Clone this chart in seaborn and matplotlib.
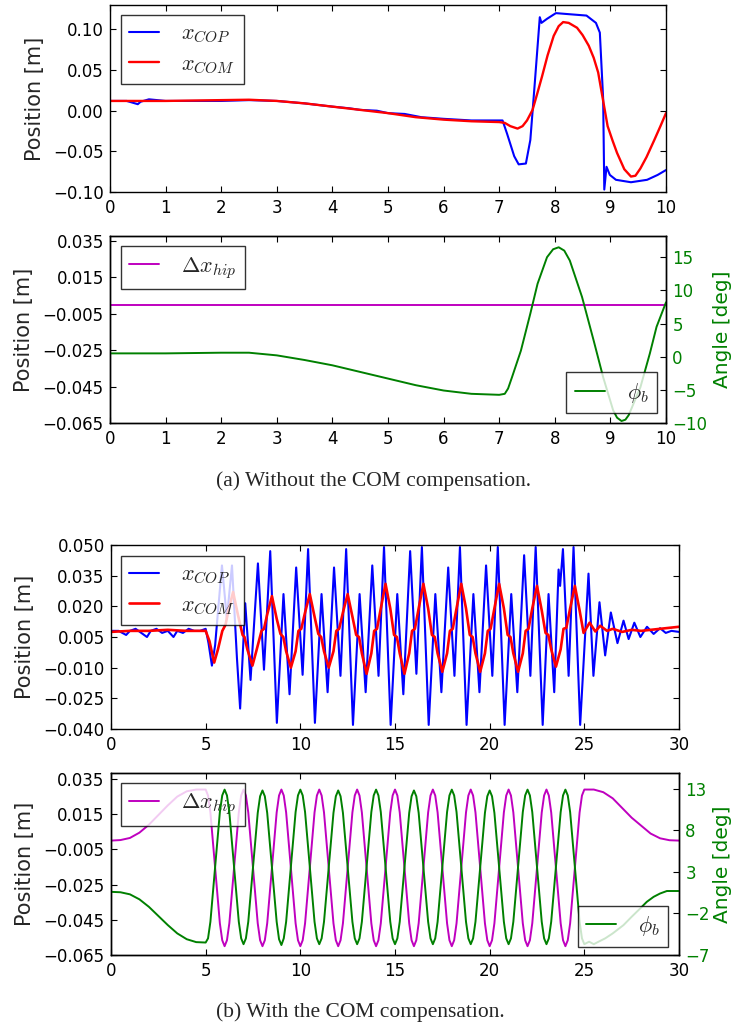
import matplotlib
matplotlib.use("Agg")
import matplotlib.pyplot as plt
import seaborn as sns

# ---------------- (a) without the COM compensation ----------------
t_a_cop = [0.0, 0.3, 0.5, 0.55, 0.7, 1.0, 1.5, 2.0, 2.5, 3.0, 3.5, 4.0, 4.3, 4.5,
           4.8, 5.0, 5.3, 5.6, 6.0, 6.5, 7.0, 7.06, 7.14, 7.27, 7.35, 7.48, 7.56,
           7.64, 7.73, 7.76, 7.86, 8.02, 8.2, 8.57, 8.74, 8.81, 8.87, 8.89, 8.93,
           8.99, 9.1, 9.37, 9.66, 9.85, 10.0]
x_cop_a = [0.012, 0.012, 0.008, 0.011, 0.014, 0.012, 0.012, 0.012, 0.013, 0.012,
           0.009, 0.005, 0.003, 0.001, 0.0, -0.003, -0.004, -0.008, -0.010, -0.012,
           -0.012, -0.012, -0.028, -0.056, -0.066, -0.065, -0.036, 0.034, 0.115,
           0.108, 0.113, 0.120, 0.119, 0.117, 0.108, 0.096, 0.014, -0.097, -0.069,
           -0.079, -0.085, -0.088, -0.085, -0.079, -0.073]

t_a_com = [0.0, 1.0, 2.0, 2.5, 3.0, 3.5, 4.0, 4.5, 5.0, 5.5, 6.0, 6.5, 7.0, 7.1,
           7.2, 7.33, 7.42, 7.5, 7.6, 7.68, 7.77, 7.87, 7.98, 8.07, 8.15, 8.25,
           8.4, 8.5, 8.61, 8.7, 8.78, 8.87, 8.95, 9.04, 9.12, 9.25, 9.37, 9.45,
           9.54, 9.65, 9.79, 9.9, 10.0]
x_com_a = [0.012, 0.012, 0.013, 0.0135, 0.012, 0.009, 0.005, 0.001, -0.003, -0.008,
           -0.011, -0.013, -0.014, -0.015, -0.019, -0.022, -0.019, -0.012, 0.001,
           0.020, 0.042, 0.068, 0.092, 0.104, 0.109, 0.108, 0.102, 0.093, 0.080,
           0.065, 0.047, 0.012, -0.019, -0.037, -0.052, -0.072, -0.081, -0.080,
           -0.071, -0.057, -0.036, -0.019, -0.003]

t_a_hip = [0.0, 10.0]
dx_hip_a = [0.0, 0.0]

t_a_phi = [0.0, 1.0, 2.0, 2.5, 3.0, 3.5, 4.0, 4.5, 5.0, 5.5, 6.0, 6.5, 7.0, 7.1,
           7.16, 7.23, 7.39, 7.56, 7.69, 7.86, 7.97, 8.07, 8.17, 8.27, 8.49, 8.7,
           8.87, 9.05, 9.12, 9.2, 9.27, 9.33, 9.54, 9.71, 9.83, 10.0]
phi_a = [0.5, 0.5, 0.6, 0.6, 0.2, -0.5, -1.3, -2.3, -3.3, -4.3, -5.1, -5.6, -5.75,
         -5.6, -4.8, -3.1, 0.9, 6.5, 11.0, 15.0, 16.2, 16.5, 16.0, 14.5, 9.0, 2.4,
         -3.1, -8.1, -9.2, -9.7, -9.5, -8.8, -4.6, 0.5, 4.5, 8.2]

# ---------------- (b) with the COM compensation ----------------
t_b_cop = [0.0, 0.4, 0.8, 1.0, 1.3, 1.6, 1.9, 2.1, 2.4, 2.7, 3.0, 3.3, 3.5, 3.8,
           4.1, 4.4, 4.7, 5.0,
           5.15, 5.33, 5.5, 5.6, 5.86, 6.12, 6.39, 6.65, 6.82, 7.09, 7.37, 7.76,
           8.08, 8.41,
           8.76, 9.11, 9.43, 9.78, 10.12, 10.41,
           10.77, 11.12, 11.44, 11.78, 12.12, 12.42,
           12.78, 13.13, 13.45, 13.80, 14.13, 14.42,
           14.77, 15.12, 15.44, 15.80, 16.13, 16.42,
           16.78, 17.13, 17.45, 17.81, 18.14, 18.43,
           18.78, 19.14, 19.46, 19.81, 20.14, 20.43,
           20.79, 21.14, 21.46, 21.82, 22.15, 22.43,
           22.80, 23.11, 23.41, 23.64, 23.72, 23.87, 24.17, 24.43,
           24.78, 25.22, 25.48, 25.80, 26.10, 26.40, 26.75, 27.07, 27.34, 27.64,
           27.96, 28.31, 28.66, 29.00, 29.30, 29.60, 30.0]
x_cop_b = [0.008, 0.008, 0.006, 0.008, 0.009, 0.007, 0.005, 0.008, 0.009, 0.007,
           0.008, 0.005, 0.008, 0.007, 0.009, 0.008, 0.008, 0.009,
           0.002, -0.009, 0.001, 0.012, 0.040, 0.014, 0.040, -0.005, -0.030,
           0.0215, -0.016, 0.041, -0.011, 0.047,
           -0.037, 0.026, -0.023, 0.039, -0.0135, 0.048,
           -0.037, 0.026, -0.022, 0.039, -0.014, 0.048,
           -0.038, 0.026, -0.022, 0.040, -0.014, 0.049,
           -0.038, 0.026, -0.023, 0.047, -0.013, 0.049,
           -0.038, 0.026, -0.022, 0.039, -0.014, 0.049,
           -0.038, 0.026, -0.022, 0.040, -0.014, 0.049,
           -0.038, 0.026, -0.022, 0.045, -0.014, 0.049,
           -0.038, 0.026, -0.022, 0.038, 0.030, 0.048, -0.014, 0.049,
           -0.038, 0.036, -0.014, 0.022, -0.004, 0.017, 0.002, 0.013, 0.004, 0.012,
           0.005, 0.010, 0.0065, 0.0093, 0.007, 0.008, 0.0075]

t_b_com = [0.0, 1.0, 2.0, 3.0, 4.0, 5.0,
           5.2, 5.45, 5.65, 5.88, 6.05, 6.2, 6.45, 6.7, 6.95, 7.05, 7.2, 7.47, 7.7,
           7.95, 8.08, 8.25, 8.5,
           8.75, 8.95, 9.1, 9.25, 9.5, 9.75, 9.9, 10.05, 10.25, 10.5,
           10.75, 10.95, 11.1, 11.25, 11.5, 11.75, 11.9, 12.05, 12.25, 12.5,
           12.75, 12.95, 13.1, 13.25, 13.5, 13.75, 13.9, 14.05, 14.25, 14.5,
           14.75, 14.95, 15.1, 15.25, 15.5, 15.75, 15.9, 16.05, 16.25, 16.5,
           16.75, 16.95, 17.1, 17.25, 17.5, 17.75, 17.9, 18.05, 18.25, 18.5,
           18.75, 18.95, 19.1, 19.25, 19.5, 19.75, 19.9, 20.05, 20.25, 20.5,
           20.75, 20.95, 21.1, 21.25, 21.5, 21.75, 21.9, 22.05, 22.25, 22.5,
           22.75, 22.95, 23.1, 23.25, 23.5, 23.75, 23.9, 24.05, 24.25, 24.5,
           24.75, 24.96, 25.28, 25.58, 25.84, 26.2, 26.5, 27.0, 27.5, 28.0, 28.5,
           29.0, 29.5, 30.0]
x_com_b = [0.0075, 0.008, 0.008, 0.0085, 0.008, 0.008,
           0.003, -0.0075, -0.001, 0.008, 0.011, 0.018, 0.027, 0.016, 0.006, 0.005,
           -0.001, -0.009, -0.001, 0.008, 0.009, 0.016, 0.025,
           0.014, 0.0065, 0.005, -0.002, -0.010, -0.002, 0.008, 0.009, 0.017, 0.026,
           0.015, 0.0065, 0.005, -0.002, -0.010, -0.002, 0.008, 0.009, 0.017, 0.026,
           0.015, 0.006, 0.005, -0.003, -0.013, -0.003, 0.008, 0.009, 0.019, 0.031,
           0.019, 0.006, 0.005, -0.003, -0.013, -0.003, 0.008, 0.009, 0.019, 0.031,
           0.019, 0.006, 0.005, -0.003, -0.012, -0.003, 0.008, 0.009, 0.019, 0.031,
           0.019, 0.006, 0.005, -0.003, -0.012, -0.003, 0.008, 0.009, 0.019, 0.031,
           0.019, 0.006, 0.005, -0.003, -0.012, -0.003, 0.008, 0.009, 0.019, 0.030,
           0.018, 0.007, 0.006, -0.001, -0.0095, -0.001, 0.009, 0.0095, 0.019, 0.030,
           0.018, 0.007, 0.012, 0.0077, 0.0105, 0.008, 0.009, 0.0075, 0.0085, 0.008,
           0.0085, 0.009, 0.0095, 0.010]

# sample times of the 5-25 s swinging phase (shared by the hip and the angle)
t_b_osc = [5.125, 5.25, 5.5, 5.75, 5.875, 6.0, 6.125, 6.25, 6.5, 6.75, 6.875, 7.0,
           7.125, 7.25, 7.5, 7.75, 7.875, 8.0, 8.125, 8.25, 8.5, 8.75, 8.875, 9.0,
           9.125, 9.25, 9.5, 9.75, 9.875, 10.0, 10.125, 10.25, 10.5, 10.75, 10.875, 11.0,
           11.125, 11.25, 11.5, 11.75, 11.875, 12.0, 12.125, 12.25, 12.5, 12.75, 12.875, 13.0,
           13.125, 13.25, 13.5, 13.75, 13.875, 14.0, 14.125, 14.25, 14.5, 14.75, 14.875, 15.0,
           15.125, 15.25, 15.5, 15.75, 15.875, 16.0, 16.125, 16.25, 16.5, 16.75, 16.875, 17.0,
           17.125, 17.25, 17.5, 17.75, 17.875, 18.0, 18.125, 18.25, 18.5, 18.75, 18.875, 19.0,
           19.125, 19.25, 19.5, 19.75, 19.875, 20.0, 20.125, 20.25, 20.5, 20.75, 20.875, 21.0,
           21.125, 21.25, 21.5, 21.75, 21.875, 22.0, 22.125, 22.25, 22.5, 22.75, 22.875, 23.0,
           23.125, 23.25, 23.5, 23.75, 23.875, 24.0, 24.125, 24.25, 24.5, 24.75, 24.875, 25.0]

t_b_hip = ([0.0, 0.5, 1.0, 1.5, 2.0, 2.5, 3.0, 3.5, 4.0, 4.5, 5.0] + t_b_osc +
           [25.5, 26.0, 26.5, 27.0, 27.5, 28.0, 28.5, 29.0, 29.5, 30.0])
dx_hip_b = [0.0, 0.0003, 0.0015, 0.0045, 0.009, 0.0145, 0.020, 0.025, 0.028, 0.029, 0.029,
            0.0256, 0.016, -0.0155, -0.047, -0.0566, -0.060, -0.0566, -0.047, -0.0155, 0.016, 0.0256, 0.029,
            0.0256, 0.016, -0.0155, -0.047, -0.0566, -0.060, -0.0566, -0.047, -0.0155, 0.016, 0.0256, 0.029,
            0.0256, 0.016, -0.0155, -0.047, -0.0566, -0.060, -0.0566, -0.047, -0.0155, 0.016, 0.0256, 0.029,
            0.0256, 0.016, -0.0155, -0.047, -0.0566, -0.060, -0.0566, -0.047, -0.0155, 0.016, 0.0256, 0.029,
            0.0256, 0.016, -0.0155, -0.047, -0.0566, -0.060, -0.0566, -0.047, -0.0155, 0.016, 0.0256, 0.029,
            0.0256, 0.016, -0.0155, -0.047, -0.0566, -0.060, -0.0566, -0.047, -0.0155, 0.016, 0.0256, 0.029,
            0.0256, 0.016, -0.0155, -0.047, -0.0566, -0.060, -0.0566, -0.047, -0.0155, 0.016, 0.0256, 0.029,
            0.0256, 0.016, -0.0155, -0.047, -0.0566, -0.060, -0.0566, -0.047, -0.0155, 0.016, 0.0256, 0.029,
            0.0256, 0.016, -0.0155, -0.047, -0.0566, -0.060, -0.0566, -0.047, -0.0155, 0.016, 0.0256, 0.029,
            0.0256, 0.016, -0.0155, -0.047, -0.0566, -0.060, -0.0566, -0.047, -0.0155, 0.016, 0.0256, 0.029,
            0.029, 0.0275, 0.024, 0.0185, 0.013, 0.0085, 0.004, 0.0013, 0.0002, 0.0]

t_b_phi = ([0.0, 0.5, 1.0, 1.5, 2.0, 2.5, 3.0, 3.5, 4.0, 4.5, 5.0] + t_b_osc +
           [25.25, 25.5, 25.75, 26.1, 26.5, 27.07, 27.5, 27.95, 28.3, 28.66, 29.0,
            29.36, 30.0])
phi_b = [0.6, 0.55, 0.3, -0.3, -1.2, -2.3, -3.4, -4.4, -5.1, -5.45, -5.5,
         -5.0, -3.0, 3.6, 10.2, 12.2, 12.9, 12.2, 10.2, 3.6, -3.0, -5.0, -5.7,
         -5.0, -3.0, 3.6, 10.1, 12.1, 12.8, 12.1, 10.1, 3.6, -3.0, -5.1, -5.8,
         -5.0, -3.0, 3.6, 10.2, 12.2, 12.9, 12.2, 10.2, 3.6, -3.0, -5.0, -5.7,
         -5.0, -3.0, 3.6, 10.1, 12.1, 12.8, 12.1, 10.1, 3.6, -3.0, -5.0, -5.7,
         -5.0, -3.0, 3.6, 10.2, 12.2, 12.9, 12.2, 10.2, 3.6, -3.0, -5.0, -5.7,
         -5.0, -3.0, 3.6, 10.1, 12.1, 12.8, 12.1, 10.1, 3.6, -3.0, -5.0, -5.7,
         -5.0, -3.0, 3.6, 10.2, 12.2, 12.9, 12.2, 10.2, 3.6, -3.0, -5.0, -5.7,
         -5.0, -3.0, 3.6, 10.1, 12.1, 12.8, 12.1, 10.1, 3.6, -3.0, -5.0, -5.7,
         -5.0, -3.0, 3.6, 10.2, 12.2, 12.9, 12.2, 10.2, 3.6, -3.0, -5.0, -5.7,
         -5.0, -3.0, 3.6, 10.2, 12.2, 12.9, 12.2, 10.2, 3.6, -3.0, -5.0, -5.7,
         -5.4, -5.7, -5.4, -5.0, -4.4, -3.4, -2.4, -1.4, -0.6, 0.0, 0.4,
         0.7, 0.7]

# ---------------- style ----------------
sns.set_style("ticks")
plt.rcParams.update({
    "font.family": ["DejaVu Sans"],
    "mathtext.fontset": "cm",
    "axes.edgecolor": "black",
    "axes.linewidth": 1.0,
    "xtick.direction": "in",
    "ytick.direction": "in",
    "xtick.top": True,
    "ytick.right": True,
    "xtick.major.size": 4,
    "ytick.major.size": 4,
    "xtick.major.width": 0.8,
    "ytick.major.width": 0.8,
    "xtick.color": "black",
    "ytick.color": "black",
    "xtick.labelsize": 12,
    "ytick.labelsize": 12,
    "xtick.major.pad": 5,
    "ytick.major.pad": 4.5,
    "axes.labelsize": 15,
    "legend.fontsize": 16,
})

W, H = 733, 1030
fig = plt.figure(figsize=(W / 100, H / 100), dpi=100)


def box(l, t, r, b):
    return [l / W, 1 - b / H, (r - l) / W, (b - t) / H]


LEG = dict(fancybox=False, framealpha=0.8, edgecolor="black", handlelength=1.35,
           handletextpad=1.0, borderpad=0.38, labelspacing=0.4, borderaxespad=0)
BLUE, RED, MAG, GRN = (0, 0, 1), (1, 0, 0), (0.75, 0, 0.75), (0, 0.5, 0)


def line(ax, x, y, color, lw, label):
    sns.lineplot(x=x, y=y, ax=ax, color=color, lw=lw, label=label,
                 sort=False, estimator=None)


# panel (a) top
ax = fig.add_axes(box(110, 5, 666, 192))
line(ax, t_a_cop, x_cop_a, BLUE, 1.5, r"$x_{COP}$")
line(ax, t_a_com, x_com_a, RED, 1.7, r"$x_{COM}$")
ax.set_xlim(0, 10)
ax.set_ylim(-0.10, 0.13)
ax.set_xticks(range(0, 11))
ax.set_yticks([-0.10, -0.05, 0.0, 0.05, 0.10])
ax.set_ylabel("Position [m]", labelpad=6)
ax.legend(loc="upper left", bbox_to_anchor=(0.019, 0.947), **LEG)

# panel (a) bottom
ax = fig.add_axes(box(110, 236, 666, 423))
ax2 = ax.twinx()
line(ax, t_a_hip, dx_hip_a, MAG, 1.4, r"$\Delta x_{hip}$")
line(ax2, t_a_phi, phi_a, GRN, 1.4, r"$\phi_b$")
ax.set_xlim(0, 10)
ax.set_ylim(-0.065, 0.0377)
ax.set_xticks(range(0, 11))
ax.set_yticks([-0.065, -0.045, -0.025, -0.005, 0.015, 0.035])
ax.set_ylabel("Position [m]", labelpad=6)
ax2.set_ylim(-10, 18.2)
ax2.set_yticks([-10, -5, 0, 5, 10, 15])
ax2.tick_params(axis="y", labelcolor=GRN)
ax2.set_ylabel("Angle [deg]", color=GRN, fontsize=14.5)
ax2.yaxis.set_label_coords(1.084, 0.5)
ax.legend(loc="upper left", bbox_to_anchor=(0.019, 0.945), **LEG)
ax2.legend(loc="lower right", bbox_to_anchor=(0.984, 0.053), **LEG)

fig.text(373 / W, 1 - 481 / H, "(a) Without the COM compensation.", ha="center",
         va="center", family="Liberation Serif", fontsize=15.5)

# panel (b) top
ax = fig.add_axes(box(111, 545, 679, 729))
line(ax, t_b_cop, x_cop_b, BLUE, 1.5, r"$x_{COP}$")
line(ax, t_b_com, x_com_b, RED, 1.9, r"$x_{COM}$")
ax.set_xlim(0, 30)
ax.set_ylim(-0.040, 0.050)
ax.set_xticks(range(0, 31, 5))
ax.set_yticks([-0.040, -0.025, -0.010, 0.005, 0.020, 0.035, 0.050])
ax.set_ylabel("Position [m]", labelpad=6)
ax.legend(loc="upper left", bbox_to_anchor=(0.017, 0.94), **LEG)

# panel (b) bottom
ax = fig.add_axes(box(111, 773, 679, 955))
ax2 = ax.twinx()
line(ax, t_b_hip, dx_hip_b, MAG, 1.4, r"$\Delta x_{hip}$")
line(ax2, t_b_phi, phi_b, GRN, 1.4, r"$\phi_b$")
ax.set_xlim(0, 30)
ax.set_ylim(-0.065, 0.0384)
ax.set_xticks(range(0, 31, 5))
ax.set_yticks([-0.065, -0.045, -0.025, -0.005, 0.015, 0.035])
ax.set_ylabel("Position [m]", labelpad=6)
ax2.set_ylim(-7, 14.9)
ax2.set_yticks([-7, -2, 3, 8, 13])
ax2.tick_params(axis="y", labelcolor=GRN)
ax2.set_ylabel("Angle [deg]", color=GRN, fontsize=14.5)
ax2.yaxis.set_label_coords(1.0595, 0.5)
ax.legend(loc="upper left", bbox_to_anchor=(0.017, 0.945), **LEG)
ax2.legend(loc="lower right", bbox_to_anchor=(0.9815, 0.046), **LEG)

fig.text(360 / W, 1 - 1012 / H, "(b) With the COM compensation.", ha="center",
         va="center", family="Liberation Serif", fontsize=15.5)

fig.savefig("out.png", dpi=100)
